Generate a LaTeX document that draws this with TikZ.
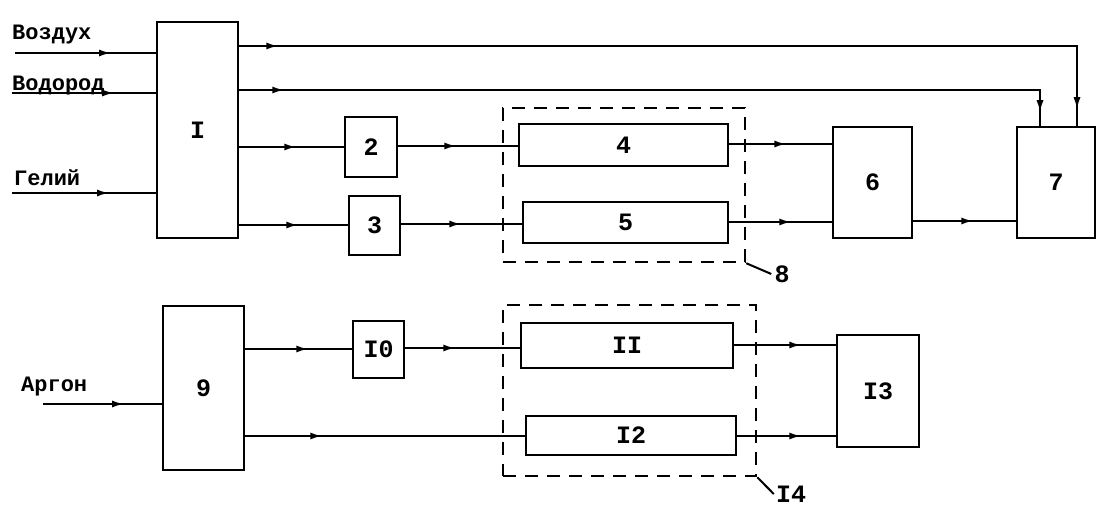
\documentclass[tikz,border=0pt]{standalone}
\usepackage{fontspec}
\setmainfont{Liberation Mono}
\usetikzlibrary{arrows.meta,decorations.markings}
\tikzset{
  blk/.style={draw, line width=2.5pt, inner sep=0pt, font=\fontsize{25}{25}\selectfont\bfseries},
  dbox/.style={draw, line width=2.5pt, dash pattern=on 13pt off 9pt, inner sep=0pt},
  conn/.style={line width=2.5pt},
  ma/.style={postaction={decorate,decoration={markings,mark=at position #1 with {\arrow{Latex[length=13pt,width=7pt]}}}}},
  lbl/.style={font=\fontsize{22}{22}\selectfont\bfseries, inner sep=0pt, anchor=base west},
  num/.style={font=\fontsize{25}{25}\selectfont\bfseries, inner sep=0pt}
}
\begin{document}
\begin{tikzpicture}[x=1pt,y=-1pt]
\useasboundingbox (0,0) rectangle (1109,526);
% blocks
\node[blk, minimum width=81pt, minimum height=216pt] (n1) at (197.5,130) {I};
\node[blk, minimum width=52pt, minimum height=60pt] (n2) at (371,147) {2};
\node[blk, minimum width=51pt, minimum height=59pt] (n3) at (374.5,225.5) {3};
\node[blk, minimum width=209pt, minimum height=42pt] (n4) at (623.5,145) {4};
\node[blk, minimum width=205pt, minimum height=41pt] (n5) at (625.5,222.5) {5};
\node[blk, minimum width=79pt, minimum height=111pt] (n6) at (872.5,182.5) {6};
\node[blk, minimum width=78pt, minimum height=111pt] (n7) at (1056,182.5) {7};
\node[dbox, minimum width=242pt, minimum height=154pt] (d8) at (624,185) {};
\node[blk, minimum width=81pt, minimum height=164pt] (n9) at (203.5,388) {9};
\node[blk, minimum width=51pt, minimum height=57pt] (n10) at (378.5,349.5) {I0};
\node[blk, minimum width=212pt, minimum height=45pt] (n11) at (627,345.5) {II};
\node[blk, minimum width=210pt, minimum height=39pt] (n12) at (631,435.5) {I2};
\node[blk, minimum width=82pt, minimum height=112pt] (n13) at (878,391) {I3};
\node[dbox, minimum width=253pt, minimum height=171pt] (d14) at (629.5,390.5) {};
% input labels
\node[lbl] (tA) at (12,40) {Воздух};
\node[lbl] (tH) at (12,91) {Водород};
\node[lbl] (tHe) at (14,186) {Гелий};
\node[lbl] (tAr) at (21,392) {Аргон};
\coordinate (iA) at (15,53);
\coordinate (iH) at (12,93);
\coordinate (iHe) at (12,193);
\coordinate (iAr) at (43,404);
% inputs
\draw[conn, ma=97pt] (iA) -- (n1.west |- iA);
\draw[conn, ma=103pt] (iH) -- (n1.west |- iH);
\draw[conn, ma=98pt] (iHe) -- (n1.west |- iHe);
\draw[conn, ma=82pt] (iAr) -- (n9.west |- iAr);
% top lines to 7
\draw[conn, ma=40pt, ma=902pt] (n1.east |- 0,46) -| (n7.north -| 1077,0);
\draw[conn, ma=46pt, ma=824pt] (n1.east |- 0,90) -| (n7.north -| 1040,0);
% upper chain
\draw[conn, ma=58pt] (n1.east |- 0,147) -- (n2.west |- 0,147);
\draw[conn, ma=60pt] (n1.east |- 0,225) -- (n3.west |- 0,225);
\draw[conn, ma=59pt] (n2.east |- 0,146) -- (n4.west |- 0,146);
\draw[conn, ma=61pt] (n3.east |- 0,224) -- (n5.west |- 0,224);
\draw[conn, ma=58pt] (n4.east |- 0,144) -- (n6.west |- 0,144);
\draw[conn, ma=63pt] (n5.east |- 0,222) -- (n6.west |- 0,222);
\draw[conn, ma=61pt] (n6.east |- 0,221) -- (n7.west |- 0,221);
% lower chain
\draw[conn, ma=64pt] (n9.east |- 0,349) -- (n10.west |- 0,349);
\draw[conn, ma=51pt] (n10.east |- 0,348) -- (n11.west |- 0,348);
\draw[conn, ma=68pt] (n11.east |- 0,345) -- (n13.west |- 0,345);
\draw[conn, ma=78pt] (n9.east |- 0,436) -- (n12.west |- 0,436);
\draw[conn, ma=65pt] (n12.east |- 0,436) -- (n13.west |- 0,436);
% leaders and group labels
\node[num] (l8) at (782,274) {8};
\node[num] (l14) at (791,494) {I4};
\draw[line width=2pt] (d8.south east) -- ([xshift=-3pt]l8.west);
\draw[line width=2pt] (d14.south east) -- ([xshift=-2pt]l14.west);
\end{tikzpicture}
\end{document}
